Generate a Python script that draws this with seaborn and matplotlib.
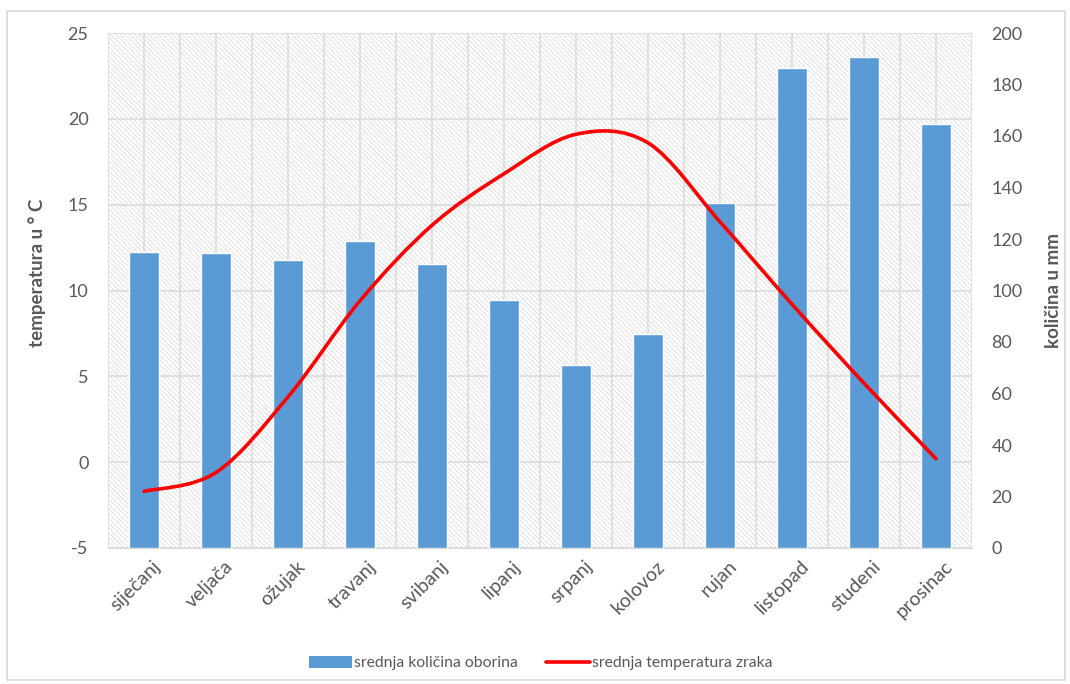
import numpy as np
import pandas as pd
import seaborn as sns
import matplotlib.pyplot as plt
from matplotlib.path import Path
from matplotlib.patches import PathPatch, Patch, Rectangle
from matplotlib.lines import Line2D
from matplotlib.transforms import ScaledTranslation

# monthly data
months = ['siječanj', 'veljača', 'ožujak', 'travanj', 'svibanj', 'lipanj',
          'srpanj', 'kolovoz', 'rujan', 'listopad', 'studeni', 'prosinac']
oborina_mm = [115.0, 114.6, 111.8, 119.2, 110.3, 96.3,
              71.1, 83.1, 134.0, 186.4, 190.7, 164.7]
temperatura_c = [-1.7, -0.6, 3.8, 9.4, 13.8, 16.8,
                 19.1, 18.6, 14.0, 9.2, 4.6, 0.2]

temp_ticks = [-5, 0, 5, 10, 15, 20, 25]
mm_ticks = [0, 20, 40, 60, 80, 100, 120, 140, 160, 180, 200]

grey = '#595959'
sns.set_style('white')
plt.rcParams['font.family'] = ['Lato', 'DejaVu Sans']
plt.rcParams['axes.unicode_minus'] = False
plt.rcParams['hatch.linewidth'] = 0.5

fig = plt.figure(figsize=(10.7, 6.84), dpi=100)
fig.patches.append(Rectangle((7 / 1070, 4 / 684), 1058 / 1070, 669 / 684,
                             transform=fig.transFigure, fill=False,
                             edgecolor='#d9d9d9', linewidth=1.2))

pos = [108 / 1070, 1 - 548 / 684, 864 / 1070, 515 / 684]
ax_t = fig.add_axes(pos)          # temperature scale, background + grid
ax_mm = ax_t.twinx()              # bars
ax_line = ax_t.twinx()            # red line on top

# hatched background
ax_t.add_patch(Rectangle((0, 0), 1, 1, transform=ax_t.transAxes,
                         facecolor='white', edgecolor='#d6d6d6', linewidth=0,
                         hatch='\\' * 7, zorder=-1))

df = pd.DataFrame({'mjesec': months, 'oborina': oborina_mm})
sns.barplot(data=df, x='mjesec', y='oborina', color='#5B9BD5', saturation=1,
            width=0.42, ax=ax_mm)

n = len(months)
for a in (ax_t, ax_mm, ax_line):
    a.set_xlim(-0.5, n - 0.5)

# temperature axis (left)
ax_t.set_ylim(-5, 25)
ax_t.set_yticks(temp_ticks)
ax_t.set_xticks(range(n))
ax_t.set_xticks(np.arange(-0.5, n, 1.0), minor=True)
ax_t.set_xticklabels(months, rotation=45, ha='right', rotation_mode='anchor',
                     fontsize=14)
ax_t.grid(True, which='both', color='#dcdcdc', linewidth=1.2)
ax_t.set_axisbelow(True)
ax_t.tick_params(axis='both', which='both', length=0, colors=grey)
ax_t.tick_params(axis='y', labelsize=13, pad=14)
ax_t.tick_params(axis='x', pad=7)
shift = ScaledTranslation(8 / 100, 0, fig.dpi_scale_trans)
for lbl in ax_t.get_xticklabels():
    lbl.set_transform(lbl.get_transform() + shift)
ax_t.set_ylabel('temperatura u ° C', fontsize=13.5, fontweight='bold', color=grey)
ax_t.yaxis.set_label_coords(-0.072, 0.535)

# precipitation axis (right)
ax_mm.set_ylim(0, 200)
ax_mm.set_yticks(mm_ticks)
ax_mm.set_xlabel('')
ax_mm.tick_params(axis='y', length=0, labelsize=13, colors=grey, pad=14)
ax_mm.set_ylabel('količina u mm', fontsize=13.5, fontweight='bold', color=grey)
ax_mm.yaxis.set_label_coords(1.085, 0.5)

# smoothed temperature line (Bezier through the monthly points)
ax_line.set_ylim(-5, 25)
ax_line.yaxis.set_visible(False)
xs = np.arange(n, dtype=float)
ys = np.array(temperatura_c)
verts = [(xs[0], ys[0])]
codes = [Path.MOVETO]
for i in range(n - 1):
    x0, y0 = xs[max(i - 1, 0)], ys[max(i - 1, 0)]
    x3, y3 = xs[min(i + 2, n - 1)], ys[min(i + 2, n - 1)]
    c1 = (xs[i] + (xs[i + 1] - x0) / 6, ys[i] + (ys[i + 1] - y0) / 6)
    c2 = (xs[i + 1] - (x3 - xs[i]) / 6, ys[i + 1] - (y3 - ys[i]) / 6)
    verts += [c1, c2, (xs[i + 1], ys[i + 1])]
    codes += [Path.CURVE4] * 3
ax_line.add_patch(PathPatch(Path(verts, codes), facecolor='none',
                            edgecolor='#FF0000', linewidth=2.6,
                            capstyle='round'))

for a in (ax_t, ax_mm, ax_line):
    for s in a.spines.values():
        s.set_visible(False)
ax_t.spines['bottom'].set_visible(True)
ax_t.spines['bottom'].set_color('#d9d9d9')

handles = [Patch(facecolor='#5B9BD5', edgecolor='none'),
           Line2D([0], [0], color='#FF0000', linewidth=2.6)]
fig.legend(handles, ['srednja količina oborina', 'srednja temperatura zraka'],
           loc='center', bbox_to_anchor=(0.505, 1 - 663 / 684), ncol=2,
           frameon=False, fontsize=11.3, labelcolor=grey, handlelength=2.8,
           handleheight=0.8, handletextpad=0.1, columnspacing=1.8)

fig.savefig('out.png', dpi=100)
